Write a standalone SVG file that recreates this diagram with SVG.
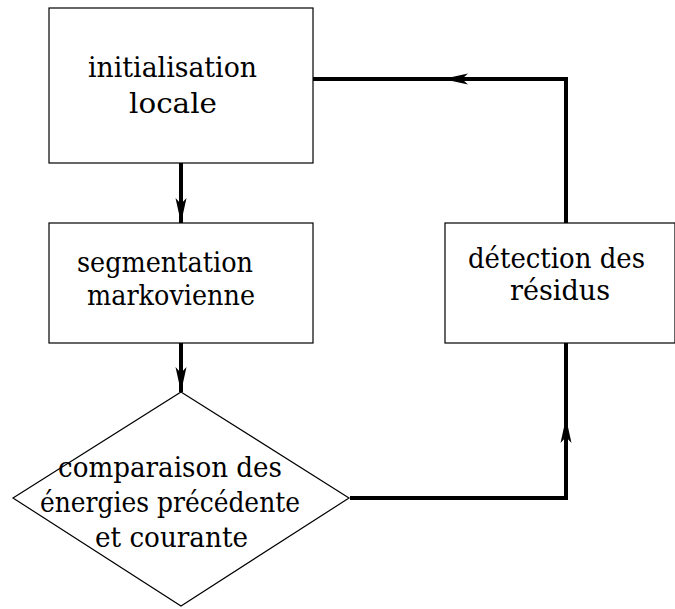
<svg xmlns="http://www.w3.org/2000/svg" width="675" height="609" viewBox="0 0 675 609">
<style>
.box{fill:#fff;stroke:#000;stroke-width:1.2}
.c{fill:none;stroke:#000;stroke-width:4;stroke-linejoin:miter;stroke-linecap:butt}
</style>
<defs>
<marker id="ah" markerUnits="userSpaceOnUse" markerWidth="30" markerHeight="16" viewBox="-26 -8 30 16" refX="0" refY="0" orient="auto">
<path d="M0,0 L-25,-5.5 L-19,0 L-25,5.5 Z" fill="#000"/>
</marker>
</defs>
<rect width="675" height="609" fill="#fff"/>
<g id="connectors">
<line class="c" x1="181" y1="163" x2="181" y2="223" marker-end="url(#ah)"/>
<line class="c" x1="181" y1="343" x2="181" y2="392" marker-end="url(#ah)"/>
<polyline class="c" points="350,498 566,498 566,418" marker-end="url(#ah)"/>
<line class="c" x1="566" y1="420" x2="566" y2="343"/>
<polyline class="c" points="566,223 566,79 443,79" marker-end="url(#ah)"/>
<line class="c" x1="445" y1="79" x2="313" y2="79"/>
</g>
<g font-family="DejaVu Serif, serif" font-size="28" fill="#000">
<g id="init">
<rect class="box" x="49" y="8" width="264" height="155"/>
<text x="88" y="77" textLength="169" lengthAdjust="spacingAndGlyphs">initialisation</text>
<text x="129" y="113" textLength="88" lengthAdjust="spacingAndGlyphs">locale</text>
</g>
<g id="segmentation">
<rect class="box" x="49" y="223" width="264" height="120"/>
<text x="77" y="272" textLength="176" lengthAdjust="spacingAndGlyphs">segmentation</text>
<text x="87" y="305" textLength="168" lengthAdjust="spacingAndGlyphs">markovienne</text>
</g>
<g id="detection">
<rect class="box" x="445" y="223" width="230" height="120"/>
<text x="468" y="268" textLength="177" lengthAdjust="spacingAndGlyphs">détection des</text>
<text x="510" y="300" textLength="100" lengthAdjust="spacingAndGlyphs">résidus</text>
</g>
<g id="comparaison">
<polygon class="box" points="181,392 349,498 181,606 13,498"/>
<text x="58" y="477" textLength="224" lengthAdjust="spacingAndGlyphs">comparaison des</text>
<text x="40" y="512" textLength="260" lengthAdjust="spacingAndGlyphs">énergies précédente</text>
<text x="95" y="547" textLength="153" lengthAdjust="spacingAndGlyphs">et courante</text>
</g>
</g>
</svg>
